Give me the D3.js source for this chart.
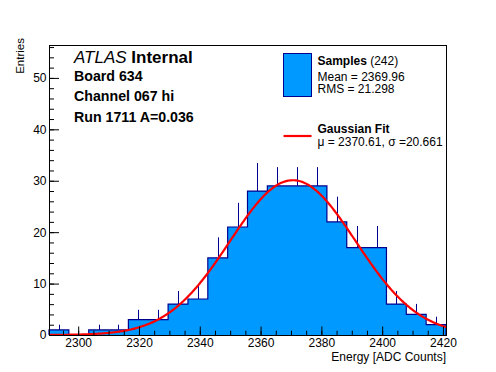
<!DOCTYPE html>
<html>
<head>
<meta charset="utf-8">
<script src="https://cdn.jsdelivr.net/npm/d3@7/dist/d3.min.js"></script>
<style>
  html, body { margin: 0; padding: 0; background: #fff; }
  svg { display: block; font-family: "Liberation Sans", Arial, Helvetica, sans-serif; }
</style>
</head>
<body>
<svg id="chart" width="496" height="372"></svg>
<script>
// ---- histogram definition (20 equal bins over the axis range) ----
const xRange = [2290.4, 2421.0];
const yRange = [0, 56.4];
const counts = [1, 0, 1, 1, 3, 3, 6, 7, 15, 21, 28, 29, 29, 29, 22, 17, 17, 6, 4, 2];
const errUp  = [1, 0, 1, 1, 1.9, 1.9, 2.55, 2.55, 4, 4.7, 5.45, 3.65, 3.65, 3.65, 4.9, 4.2, 4.2, 2.55, 2.05, 1.55];

// ---- Gaussian fit parameters ----
const fitMu = 2370.61, fitSigma = 20.661, fitConst = 30.1;

// ---- axes ----
const xTicks = [2300, 2320, 2340, 2360, 2380, 2400, 2420];
const yTicks = [0, 10, 20, 30, 40, 50];
const xTitle = 'Energy [ADC Counts]';
const yTitle = 'Entries';

// ---- labels ----
const infoLines = ['Board 634', 'Channel 067 hi', 'Run 1711 A=0.036'];
const legendStats = ['Mean = 2369.96', 'RMS = 21.298'];
const fitText = 'μ = 2370.61, σ =20.661';

const FILL = '#0099ff', EDGE = '#00008f', RED = '#ff0000';
const L = 49, R = 446, T = 45, B = 335;

const svg = d3.select('#chart');
const x = d3.scaleLinear().domain(xRange).range([L, R]);
const y = d3.scaleLinear().domain(yRange).range([B, T]);

const nb = counts.length;
const bw = (xRange[1] - xRange[0]) / nb;
const bins = counts.map((c, i) => ({ x0: xRange[0] + i * bw, x1: xRange[0] + (i + 1) * bw, c, e: errUp[i] }));

const plot = svg.append('g');

// fill
plot.selectAll('rect.bin').data(bins.filter(b => b.c > 0)).join('rect')
  .attr('class', 'bin')
  .attr('x', d => x(d.x0)).attr('width', d => x(d.x1) - x(d.x0))
  .attr('y', d => y(d.c)).attr('height', d => y(0) - y(d.c))
  .attr('fill', FILL).attr('shape-rendering', 'crispEdges');

// outline (step)
const pts = [[x(bins[0].x0), y(0)]];
bins.forEach(b => { pts.push([x(b.x0), y(b.c)]); pts.push([x(b.x1), y(b.c)]); });
pts.push([x(bins[nb - 1].x1), y(0)]);
plot.append('path').attr('d', d3.line()(pts))
  .attr('fill', 'none').attr('stroke', EDGE).attr('stroke-width', 1.2);

// error bars (upper part)
plot.selectAll('line.err').data(bins.filter(b => b.c > 0)).join('line')
  .attr('class', 'err')
  .attr('x1', d => Math.round(x((d.x0 + d.x1) / 2)) + 0.5)
  .attr('x2', d => Math.round(x((d.x0 + d.x1) / 2)) + 0.5)
  .attr('y1', d => y(d.c)).attr('y2', d => y(d.c + d.e))
  .attr('stroke', EDGE).attr('stroke-width', 1);

// fit curve
const fitX = d3.range(0, 401).map(i => xRange[0] + (xRange[1] - xRange[0]) * i / 400);
const gauss = v => fitConst * Math.exp(-0.5 * Math.pow((v - fitMu) / fitSigma, 2));
plot.append('path').attr('d', d3.line().x(v => x(v)).y(v => y(gauss(v)))(fitX))
  .attr('fill', 'none').attr('stroke', RED).attr('stroke-width', 2.2);

// axes
const fs = 12;
const gx = svg.append('g').attr('transform', `translate(0,${B})`);
gx.call(d3.axisBottom(x).tickValues(x.ticks(30)).tickSize(-4.3).tickFormat(''));
gx.call(g => g.select('.domain').remove());
const gxM = svg.append('g').attr('transform', `translate(0,${B})`)
  .call(d3.axisBottom(x).tickValues(xTicks).tickSize(-8.5).tickPadding(3.8).tickFormat(d3.format('d')));
gxM.select('.domain').remove();

const gy = svg.append('g').attr('transform', `translate(${L},0)`);
gy.call(d3.axisLeft(y).tickValues(y.ticks(28)).tickSize(-5).tickFormat(''));
gy.select('.domain').remove();
const gyM = svg.append('g').attr('transform', `translate(${L},0)`)
  .call(d3.axisLeft(y).tickValues(yTicks).tickSize(-10).tickPadding(2.5).tickFormat(d3.format('d')));
gyM.select('.domain').remove();

svg.selectAll('.tick line').attr('stroke', '#000').attr('stroke-width', 1);
svg.selectAll('.tick text').attr('font-size', fs).attr('fill', '#000')
  .attr('font-family', '"Liberation Sans", Arial, sans-serif');

// frame
svg.append('rect').attr('x', L + 0.5).attr('y', T + 0.5)
  .attr('width', R - L).attr('height', B - T)
  .attr('fill', 'none').attr('stroke', '#000').attr('stroke-width', 1);

// axis titles
svg.append('text').attr('x', R).attr('y', 360.5).attr('text-anchor', 'end')
  .attr('font-size', 12).text(xTitle);
svg.append('text').attr('transform', `translate(24,38) rotate(-90)`)
  .attr('text-anchor', 'end').attr('font-size', 11.5).text(yTitle);

// ATLAS label block
const atl = svg.append('text').attr('x', 74).attr('y', 63).attr('font-size', 17);
atl.append('tspan').attr('font-style', 'italic').text('ATLAS');
atl.append('tspan').attr('font-weight', 'bold').text(' Internal');
const infoY = [80.5, 101, 121.7];
infoLines.forEach((t, i) => {
  svg.append('text').attr('x', 74).attr('y', infoY[i])
    .attr('font-size', 14.2).attr('font-weight', 'bold').text(t);
});

// legend
const lg = svg.append('g');
lg.append('rect').attr('x', 283.5).attr('y', 53.5).attr('width', 28).attr('height', 43)
  .attr('fill', FILL).attr('stroke', EDGE).attr('stroke-width', 1);
const s1 = lg.append('text').attr('x', 317.5).attr('y', 65).attr('font-size', 12);
s1.append('tspan').attr('font-weight', 'bold').text('Samples');
s1.append('tspan').text(' (242)');
legendStats.forEach((t, i) => {
  lg.append('text').attr('x', 317.5).attr('y', 80.7 + i * 12.6).attr('font-size', 12).text(t);
});
lg.append('line').attr('x1', 283.5).attr('x2', 311.5).attr('y1', 136).attr('y2', 136)
  .attr('stroke', RED).attr('stroke-width', 2.2);
lg.append('text').attr('x', 317.5).attr('y', 132.7).attr('font-size', 12)
  .attr('font-weight', 'bold').text('Gaussian Fit');
lg.append('text').attr('x', 317.5).attr('y', 145.5).attr('font-size', 12).text(fitText);
</script>
</body>
</html>
